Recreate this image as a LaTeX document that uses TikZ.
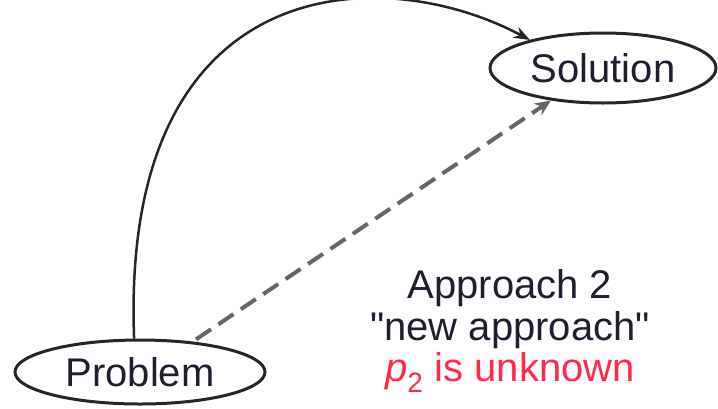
\documentclass[tikz,border=0pt]{standalone}
\usepackage{fontspec}
\setmainfont{Liberation Sans}[Ligatures=TeXOff]
\usetikzlibrary{shapes.geometric,arrows.meta}
\definecolor{txt}{HTML}{1E2030}
\definecolor{redtxt}{HTML}{FF2A4A}
\tikzset{
  oval/.style={ellipse, draw=black!85, line width=3pt, inner sep=0pt, text=txt,
    font=\fontsize{40}{42}\selectfont},
  arc/.style={draw=black!85, line width=2.5pt, -{Stealth[length=16pt,width=12pt]}},
  dasharrow/.style={draw=black!60, line width=4pt, dash pattern=on 18pt off 9pt,
    -{Stealth[length=16pt,width=14pt]}},
  note/.style={align=center, text=txt, font=\fontsize{40}{42}\selectfont}
}
\begin{document}
\begin{tikzpicture}[x=1pt,y=-1pt]
\useasboundingbox (0,0) rectangle (718,408);
\node[oval, minimum width=250pt, minimum height=64pt] (P) at (140,372) {Problem};
\node[oval, minimum width=226pt, minimum height=70pt] (S) at (603,68) {Solution};
\node[note] (A) at (510,331) {Approach 2\\"new approach"\\[-1pt]\textcolor{redtxt}{\textit{p}\textsubscript{2} is unknown}};
\draw[arc] (P.100) .. controls (120,-30) and (380,-40) .. (S.159);
\draw[dasharrow, shorten <=4pt] (P.30) -- (S.212);
\end{tikzpicture}
\end{document}
